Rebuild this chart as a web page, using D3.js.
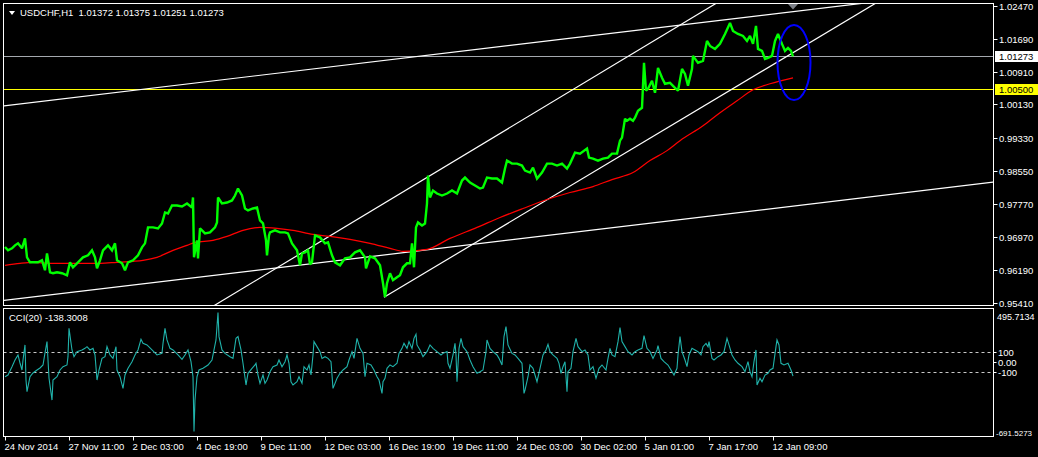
<!DOCTYPE html>
<html><head><meta charset="utf-8">
<script src="https://cdn.jsdelivr.net/npm/d3@7"></script>
<style>
html,body{margin:0;padding:0;background:#000;}
svg{display:block;}
text{font-family:"Liberation Sans",Arial,sans-serif;font-size:9.5px;fill:#fff;}
</style></head><body>
<svg id="c" width="1038" height="457"></svg>
<script>
const titleText = "USDCHF,H1  1.01372 1.01375 1.01251 1.01273";
const cciTitle = "CCI(20) -138.3008";
const timeTickBars = [0,64,128,192,256,320,384,448,512,576,640,704,768];
const timeLabels = ["24 Nov 2014","27 Nov 11:00","2 Dec 03:00","4 Dec 19:00","9 Dec 11:00","12 Dec 03:00","16 Dec 19:00","19 Dec 11:00","24 Dec 03:00","30 Dec 02:00","5 Jan 01:00","7 Jan 17:00","12 Jan 09:00"];
const priceTicks = [1.02470,1.01690,1.00910,1.00130,0.99330,0.98550,0.97770,0.96970,0.96190,0.95410];
const lastPrice = 1.01273;
const levelPrice = 1.00500;
const cciLevels = [100,0,-100];
const cciRange = [-691.5273, 495.7134];

const priceBars = [0,3,7,10,13,17,20,22,25,28,33,37,40,42,45,48,52,57,62,65,68,73,78,83,87,90,92,95,98,103,107,110,112,117,120,123,128,133,137,140,143,148,153,157,160,163,167,172,177,182,187,188,189,192,193,195,200,205,210,212,213,217,222,227,230,233,237,240,243,248,252,255,258,261,262,264,265,270,275,280,283,287,292,295,297,300,303,305,307,310,315,320,323,327,330,335,340,345,350,355,360,361,365,370,375,378,380,382,385,388,392,395,398,402,405,407,409,411,413,417,420,422,423,425,428,432,437,442,447,452,457,460,465,470,475,478,482,487,492,497,500,502,507,512,517,520,525,528,532,537,542,547,552,557,562,565,570,575,582,584,588,593,598,603,607,612,615,617,620,622,625,628,630,633,637,639,641,643,647,650,653,657,660,665,670,673,677,680,683,687,688,693,698,702,705,710,715,720,725,728,733,738,742,745,748,751,753,757,760,763,767,770,773,777,780,783,786,788];
const priceClose = [0.96740,0.96662,0.96709,0.96780,0.96828,0.96709,0.96944,0.96496,0.96377,0.96377,0.96377,0.96425,0.96188,0.96591,0.96140,0.96117,0.96140,0.96117,0.96069,0.96377,0.96259,0.96377,0.96496,0.96543,0.96662,0.96496,0.96235,0.96425,0.96662,0.96780,0.96662,0.96828,0.96425,0.96354,0.96188,0.96377,0.96425,0.96543,0.96733,0.96828,0.97207,0.97207,0.97183,0.97301,0.97562,0.97538,0.97728,0.97728,0.97704,0.97775,0.97681,0.97918,0.96496,0.96899,0.96472,0.97183,0.97064,0.97088,0.97207,0.97325,0.97918,0.97775,0.97799,0.97847,0.97965,0.98131,0.97965,0.97657,0.97610,0.97657,0.97681,0.97373,0.97301,0.96899,0.96543,0.97017,0.97088,0.97136,0.97088,0.97088,0.97064,0.96828,0.96662,0.96306,0.96591,0.96614,0.96662,0.96330,0.96377,0.97017,0.96970,0.96828,0.96851,0.96543,0.96377,0.96306,0.96472,0.96496,0.96614,0.96662,0.96496,0.96235,0.96520,0.96472,0.96306,0.95880,0.95548,0.95880,0.96117,0.95951,0.96022,0.96069,0.96259,0.96354,0.96354,0.96828,0.96259,0.97207,0.97325,0.97254,0.97301,0.97775,0.98440,0.97918,0.98084,0.98013,0.97965,0.98013,0.98084,0.98013,0.98321,0.98392,0.98274,0.98203,0.98131,0.98155,0.98392,0.98369,0.98369,0.98274,0.98606,0.98795,0.98724,0.98724,0.98677,0.98558,0.98511,0.98629,0.98369,0.98511,0.98724,0.98724,0.98677,0.98724,0.98606,0.98724,0.98984,0.98961,0.99080,0.98866,0.98843,0.98795,0.98843,0.98866,0.98961,0.98961,0.99269,0.99340,0.99790,0.99743,0.99790,0.99743,0.99814,0.99980,1.00051,1.01118,1.00455,1.00502,1.00692,1.00408,1.01000,1.00763,1.00621,1.00644,1.00526,1.00455,1.00976,1.00857,1.00573,1.00976,1.01284,1.01118,1.01166,1.01640,1.01521,1.01450,1.01569,1.01806,1.02067,1.01877,1.01806,1.01759,1.01640,1.01759,1.01569,1.01996,1.01450,1.01403,1.01213,1.01237,1.01284,1.01640,1.01806,1.01569,1.01403,1.01474,1.01403,1.01273];

const maBars = [0,15,28,45,62,78,95,112,128,138,152,168,182,190,208,222,238,255,272,288,308,325,345,365,385,398,422,445,472,495,518,542,565,588,607,628,645,662,675,698,715,732,748,765,788];
const maValues = [0.96306,0.96354,0.96377,0.96354,0.96354,0.96354,0.96354,0.96377,0.96401,0.96425,0.96496,0.96662,0.96780,0.96851,0.96899,0.96994,0.97136,0.97207,0.97183,0.97136,0.97041,0.96994,0.96922,0.96828,0.96709,0.96638,0.96685,0.96946,0.97207,0.97443,0.97657,0.97870,0.98036,0.98178,0.98344,0.98510,0.98795,0.99032,0.99269,0.99624,0.99933,1.00217,1.00478,1.00621,1.00763];

const cciBars = [0,3,7,10,13,15,17,18,20,21,22,25,28,32,35,38,40,42,44,47,48,52,55,58,62,63,64,67,69,72,77,80,82,85,88,90,92,94,97,100,102,105,108,111,112,115,118,120,123,127,130,133,136,138,142,147,152,157,158,160,162,165,168,173,177,180,183,186,188,189,190,192,194,198,203,207,209,211,213,214,217,220,225,228,231,233,236,238,241,243,247,250,251,253,255,258,260,262,265,268,272,274,277,280,282,284,286,288,292,294,297,299,302,304,306,308,309,312,315,317,320,323,326,328,330,332,335,338,342,344,347,349,352,355,358,360,362,366,369,372,374,377,378,380,382,385,388,392,394,397,399,402,404,407,409,411,412,415,418,422,425,428,432,436,438,442,443,445,448,450,451,452,454,456,458,462,465,468,472,475,478,481,482,485,488,492,494,497,499,501,503,507,510,513,517,519,520,523,525,528,532,535,538,541,543,545,548,552,554,556,558,560,562,563,566,568,571,573,577,580,583,585,588,591,594,597,601,603,605,607,610,613,615,617,620,623,627,630,633,637,639,642,645,648,652,653,656,659,663,666,669,672,673,675,677,680,682,684,687,690,693,696,698,701,703,704,707,709,713,716,719,722,724,727,730,733,737,740,743,745,747,749,751,752,755,757,760,763,765,768,771,772,774,776,779,783,786,788];
const cciValues = [-145,-128,-45,22,72,-8,-78,22,172,-178,-294,-145,-108,-78,-58,-28,92,205,-158,-378,-178,-145,-78,-45,-28,55,338,122,55,105,122,138,155,122,138,72,-178,-78,38,55,155,72,38,155,-78,-145,-261,-128,-61,5,72,122,228,188,172,122,72,88,188,338,222,138,122,72,28,72,122,5,-145,-691.5273,-378,-145,-78,-61,-28,22,122,222,495.7134,255,122,88,55,38,238,255,122,-11,-228,-111,-61,-28,-11,-128,-211,-128,-211,-178,-95,-45,-28,22,-45,5,72,-11,-195,-228,-195,-145,-211,-45,-78,-28,-128,72,205,155,105,38,55,38,5,-261,-211,-161,-111,-78,-45,22,105,38,238,138,88,-145,-11,-28,-78,-145,-178,-311,-195,-161,-61,-28,-45,-11,88,138,188,138,205,138,238,278,172,122,55,105,172,138,105,72,88,105,-11,-61,72,188,72,-195,138,238,155,105,22,-45,-111,-95,-78,105,222,138,105,72,38,-28,255,355,172,88,72,38,-11,-311,-278,-145,-28,-61,-195,-61,72,122,178,105,72,38,-11,-111,-45,5,-294,-95,-61,105,238,155,105,122,72,-78,-45,-161,-61,-28,-78,38,138,72,55,205,345,205,155,105,72,105,122,138,265,138,105,38,122,165,38,5,-28,-78,-128,-61,72,255,105,22,-45,72,138,122,105,72,155,188,155,205,38,22,55,72,105,238,172,72,22,-11,-45,-95,5,-95,-145,5,122,-228,-161,-195,-128,-111,-78,-61,155,222,172,-11,-28,-11,-78,-138.3008];

// hand-drawn objects on the chart (bar index, price)
const trendLines = [
  {b1:0, p1:1.00099, b2:835, p2:1.02470, left:true},
  {b1:0, p1:0.95474, b2:988, p2:0.98282, left:true},
  {b1:379, p1:0.95545, b2:861, p2:1.02399, left:false},
  {b1:208, p1:0.95332, b2:705, p2:1.02446, left:true}
];
const ellipseBar = 789, ellipseBarRadius = 16.5, ellipseTop = 1.02019, ellipseBottom = 1.00234;

const svg = d3.select("#c");
const W = 1038, H = 457;
svg.append("rect").attr("width",W).attr("height",H).attr("fill","#000");

const x = d3.scaleLinear().domain([0, 988]).range([5, 993]);
const y = d3.scaleLinear().domain([0.95410, 1.02470]).range([303, 6]);
const yc = d3.scaleLinear().domain(cciRange).range([431.5, 312.5]);

const main = {x0:3.5, x1:993.5, y0:3.5, y1:305.5};
const sub = {x0:3.5, x1:993.5, y0:308.5, y1:436.5};

const defs = svg.append("defs");
defs.append("clipPath").attr("id","cm").append("rect")
  .attr("x",main.x0+0.5).attr("y",main.y0+0.5).attr("width",main.x1-main.x0-1).attr("height",main.y1-main.y0-1);
defs.append("clipPath").attr("id","cs").append("rect")
  .attr("x",sub.x0+0.5).attr("y",sub.y0+0.5).attr("width",sub.x1-sub.x0-1).attr("height",sub.y1-sub.y0-1);

// ---------- main panel ----------
const gm = svg.append("g").attr("clip-path","url(#cm)");

gm.append("line").attr("x1",main.x0).attr("x2",main.x1)
  .attr("y1",Math.round(y(lastPrice))+0.5).attr("y2",Math.round(y(lastPrice))+0.5)
  .attr("stroke","#a4a8ae").attr("stroke-width",1);
gm.append("line").attr("x1",main.x0).attr("x2",main.x1)
  .attr("y1",Math.round(y(levelPrice))+0.5).attr("y2",Math.round(y(levelPrice))+0.5)
  .attr("stroke","#ffff00").attr("stroke-width",1);

trendLines.forEach(t => {
  const s = (t.p2 - t.p1) / (t.b2 - t.b1);
  const bs = t.left ? -200 : t.b1;
  const be = 1400;
  gm.append("line")
    .attr("x1", x(bs)).attr("y1", y(t.p1 + s*(bs - t.b1)))
    .attr("x2", x(be)).attr("y2", y(t.p1 + s*(be - t.b1)))
    .attr("stroke","#ffffff").attr("stroke-width",1.2);
});

const maData = maBars.map((b,i)=>[b, maValues[i]]);
gm.append("path").datum(maData)
  .attr("d", d3.line().x(d=>x(d[0])).y(d=>y(d[1])).curve(d3.curveMonotoneX))
  .attr("fill","none").attr("stroke","#ff0000").attr("stroke-width",1.2);

const pData = priceBars.map((b,i)=>[b, priceClose[i]]);
gm.append("path").datum(pData)
  .attr("d", d3.line().x(d=>x(d[0])).y(d=>y(d[1])))
  .attr("fill","none").attr("stroke","#00ff00").attr("stroke-width",2.4).attr("stroke-linejoin","miter").attr("stroke-miterlimit",2);

gm.append("ellipse")
  .attr("cx", x(ellipseBar)).attr("cy", (y(ellipseTop)+y(ellipseBottom))/2)
  .attr("rx", x(ellipseBar+ellipseBarRadius)-x(ellipseBar))
  .attr("ry", (y(ellipseBottom)-y(ellipseTop))/2)
  .attr("fill","none").attr("stroke","#0000ff").attr("stroke-width",2);

const lastX = x(priceBars[priceBars.length-1]);
svg.append("path").attr("d", `M${lastX-5},${main.y0+0.5}L${lastX+5},${main.y0+0.5}L${lastX},${main.y0+6}Z`).attr("fill","#7c8088");

svg.append("rect").attr("x",main.x0).attr("y",main.y0).attr("width",main.x1-main.x0).attr("height",main.y1-main.y0)
  .attr("fill","none").attr("stroke","#ffffff").attr("stroke-width",1);

svg.append("path").attr("d","M9,11L15,11L12,15Z").attr("fill","#fff");
svg.append("text").attr("x",20).attr("y",16).attr("xml:space","preserve").style("white-space","pre").text(titleText);

const pa = svg.append("g");
priceTicks.forEach(v => {
  const yy = Math.round(y(v)) + 0.5;
  pa.append("line").attr("x1",main.x1).attr("x2",main.x1+4).attr("y1",yy).attr("y2",yy).attr("stroke","#fff");
  pa.append("text").attr("x",999).attr("y",Math.max(yy+3.3,9)).text(d3.format(".5f")(v));
});
[[lastPrice,"#ffffff"],[levelPrice,"#ffff00"]].forEach(([v,c]) => {
  const yy = Math.round(y(v)) + 0.5;
  pa.append("rect").attr("x",995).attr("y",yy-5.5).attr("width",43).attr("height",11).attr("fill",c);
  pa.append("text").attr("x",999).attr("y",yy+3.5).text(d3.format(".5f")(v)).style("fill","#000");
});

// ---------- CCI panel ----------
const gs = svg.append("g").attr("clip-path","url(#cs)");
[100,-100].forEach(v => {
  gs.append("line").attr("x1",sub.x0).attr("x2",sub.x1)
    .attr("y1",Math.round(yc(v))+0.5).attr("y2",Math.round(yc(v))+0.5)
    .attr("stroke","#c8c8c8").attr("stroke-width",1).attr("stroke-dasharray","3,3");
});
const cData = cciBars.map((b,i)=>[b, cciValues[i]]);
gs.append("path").datum(cData)
  .attr("d", d3.line().x(d=>x(d[0])).y(d=>yc(d[1])))
  .attr("fill","none").attr("stroke","#20b2aa").attr("stroke-width",1.1);

svg.append("rect").attr("x",sub.x0).attr("y",sub.y0).attr("width",sub.x1-sub.x0).attr("height",sub.y1-sub.y0)
  .attr("fill","none").attr("stroke","#ffffff").attr("stroke-width",1);

svg.append("text").attr("x",9).attr("y",320.5).text(cciTitle);

const ca = svg.append("g");
cciLevels.forEach(v => {
  const yy = Math.round(yc(v)) + 0.5;
  ca.append("line").attr("x1",sub.x1).attr("x2",sub.x1+3).attr("y1",yy).attr("y2",yy).attr("stroke","#fff");
  ca.append("text").attr("x",998).attr("y",yy+3.3).text(v===0 ? "0.00" : String(v));
});
ca.append("text").attr("x",997).attr("y",yc(cciRange[1])+7).style("font-size","9px").text(cciRange[1].toFixed(4));
ca.append("text").attr("x",996).attr("y",yc(cciRange[0])+4.5).style("font-size","8px").text(cciRange[0].toFixed(4));

// ---------- time axis ----------
const ta = svg.append("g");
timeTickBars.forEach((b,i) => {
  const xx = Math.round(x(b)) + 0.5;
  ta.append("line").attr("x1",xx).attr("x2",xx).attr("y1",sub.y1).attr("y2",sub.y1+4).attr("stroke","#fff");
  ta.append("text").attr("x",xx-1).attr("y",449.5).text(timeLabels[i]);
});
</script>
</body></html>
